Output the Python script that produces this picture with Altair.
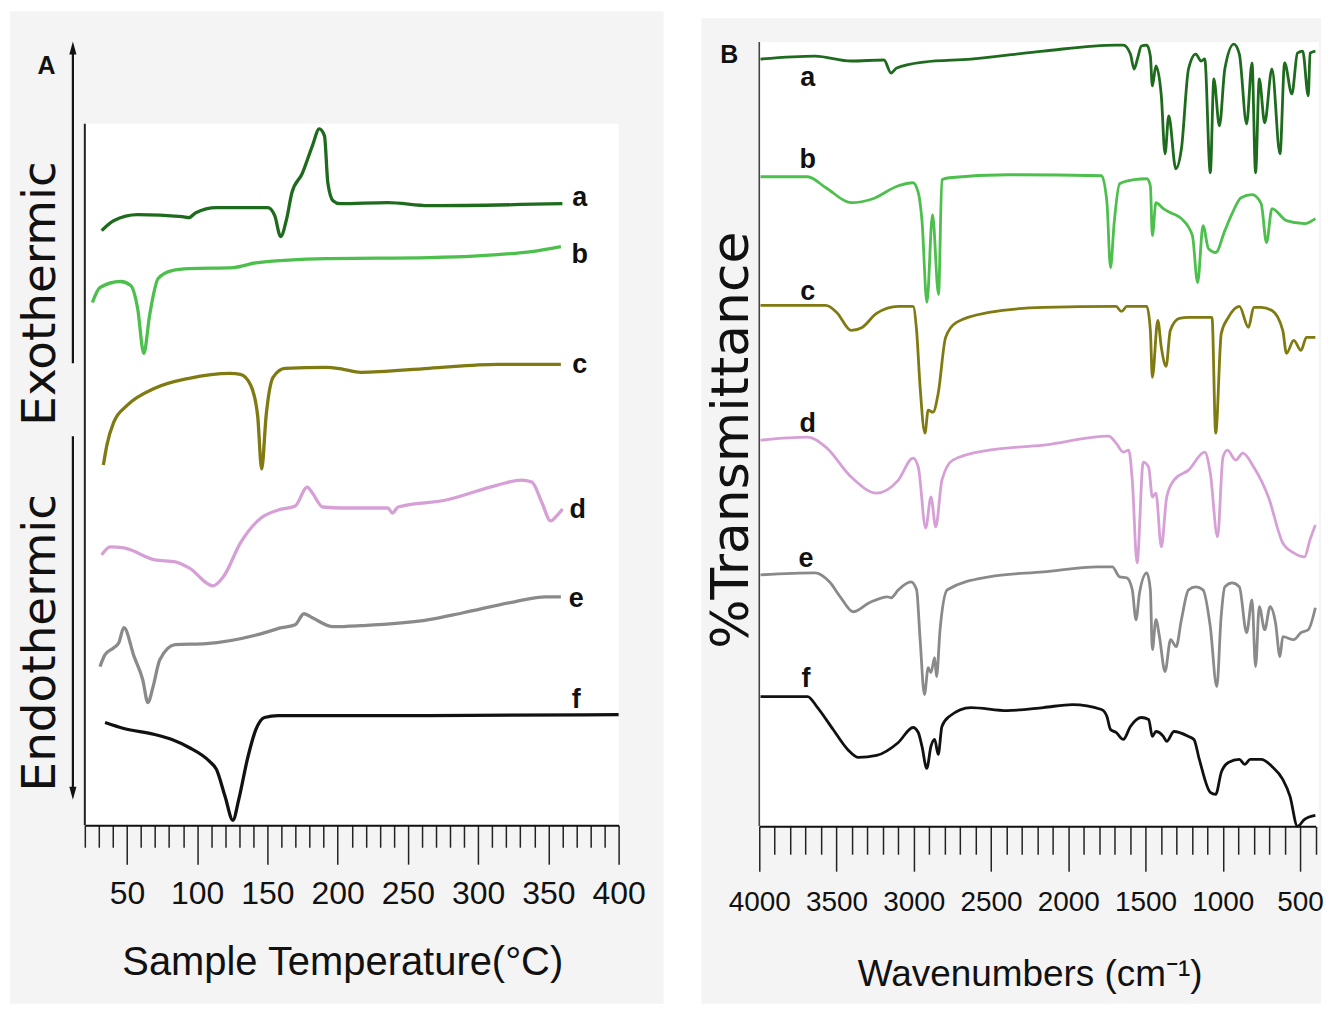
import altair as alt
import pandas as pd

# ---------------- shared ----------------
LABELS = ["a", "b", "c", "d", "e", "f"]
COLORS = ["#1e6b1e", "#4cbf4c", "#7f7a12", "#d6a0d6", "#8a8a8a", "#111111"]
FONT_AX = "Liberation Sans, Arial, sans-serif"
FONT_SANS = "DejaVu Sans, Liberation Sans, sans-serif"

# ---------------- Panel A : DSC (temperature in degC, heat flow a.u.) ----------------
dsc_T = [
    [32, 40.5, 57.6, 89.3, 94.2, 99, 113.7, 150.3, 155.2, 159.4, 163.7, 167.4, 174.7, 182, 186.9, 190.6, 193, 196.7, 201.6, 235.6, 265, 360],
    [25.4, 30.8, 45.4, 52.7, 57.6, 62, 66.1, 72.2, 82, 94.2, 125.9, 143, 191.8, 265, 313.8, 338.2, 358.9],
    [33.2, 35.7, 40.6, 50.3, 69.8, 94.2, 123.5, 130.8, 138.1, 143, 145.9, 149.1, 154, 162.5, 191.8, 204, 216.2, 265, 313.8, 358.9],
    [32, 38.1, 47.8, 69.8, 84.4, 94.2, 111.3, 118.6, 130.8, 145.4, 157.7, 169.8, 178.3, 182, 189.3, 204, 235.6, 238.9, 243, 277.2, 313.8, 330.9, 338.2, 345.5, 351.6, 355.2, 360.1],
    [30.8, 34.4, 40.6, 44.2, 47.8, 55.1, 61.2, 64.9, 68.6, 73.4, 84.4, 106.4, 143, 160.1, 169.8, 176, 182, 196.7, 216.2, 265, 289.4, 326, 348, 358.9],
    [34.4, 47.8, 69.8, 82, 94.2, 108.8, 113.7, 119.8, 125.4, 129.6, 135.7, 141.8, 147.9, 157.7, 265, 400],
]
dsc_y = [
    [59.6, 60.6, 61.2, 61.0, 60.9, 61.4, 61.9, 61.9, 61.1, 59.0, 60.8, 63.4, 65.3, 68.1, 69.8, 69.1, 64.4, 62.6, 62.3, 62.4, 62.1, 62.3],
    [52.4, 53.9, 54.5, 54.1, 51.8, 47.3, 51.1, 54.8, 55.6, 55.8, 55.9, 56.4, 56.8, 56.9, 57.2, 57.5, 58.0],
    [36.1, 38.1, 40.4, 42.1, 43.8, 44.8, 45.3, 45.2, 44.1, 41.1, 35.7, 41.1, 44.9, 45.8, 45.9, 45.7, 45.4, 45.8, 46.2, 46.2],
    [27.1, 27.9, 27.8, 26.6, 26.4, 25.8, 24.0, 24.9, 28.3, 30.8, 31.6, 32.0, 33.9, 33.3, 31.9, 31.8, 31.8, 31.3, 31.9, 32.6, 34.1, 34.6, 34.4, 32.3, 30.5, 30.9, 31.7],
    [15.9, 17.1, 17.8, 18.3, 19.8, 16.9, 14.6, 12.3, 13.9, 16.6, 18.1, 18.2, 19.1, 19.8, 20.1, 21.2, 20.8, 19.9, 20.0, 20.6, 21.3, 22.4, 22.9, 22.9],
    [10.3, 9.7, 9.1, 8.6, 7.8, 6.4, 5.6, 2.9, 0.5, 2.6, 6.6, 9.6, 10.8, 11.0, 11.0, 11.1],
]
dsc_label_T = [372.3, 372.3, 372.3, 370.9, 369.8, 369.8]
dsc_label_y = [62.1, 56.4, 45.3, 30.8, 21.9, 11.8]

# ---------------- Panel B : FTIR (wavenumber cm-1, %T a.u.) ----------------
ftir_W = [
    [3992, 3640, 3405, 3193, 3147, 3111, 2936, 2630, 2161, 1691, 1644, 1598, 1574, 1551, 1527, 1492, 1469, 1456, 1433, 1398,
     1374, 1350, 1304, 1268, 1222, 1175, 1140, 1117, 1081, 1058, 1022, 987, 929, 893, 846, 811, 788, 764, 729, 682,
     630, 600, 553, 517, 483, 447, 435, 401],
    [3992, 3687, 3569, 3405, 3264, 3100, 3005, 2971, 2947, 2915, 2879, 2840, 2818, 2771, 2395, 1785, 1750, 1727, 1703, 1668,
     1574, 1492, 1469, 1456, 1433, 1385, 1338, 1268, 1197, 1163, 1128, 1093, 1046, 987, 940, 882, 811, 752, 717, 682,
     588, 471, 401],
    [3992, 3569, 3499, 3405, 3335, 3241, 3100, 3005, 2982, 2959, 2928, 2907, 2876, 2842, 2794, 2724, 2513, 2161, 1691, 1656,
     1621, 1492, 1469, 1456, 1421, 1398, 1367, 1340, 1281, 1222, 1070, 1046, 1010, 964, 893, 834, 800, 752, 682, 612,
     588, 541, 494, 459, 401],
    [3992, 3687, 3569, 3405, 3241, 3100, 3005, 2971, 2923, 2889, 2858, 2818, 2747, 2513, 2161, 1739, 1691, 1644, 1609, 1586,
     1555, 1515, 1480, 1456, 1433, 1398, 1363, 1316, 1222, 1117, 1081, 1034, 999, 970, 917, 870, 800, 705, 612, 541,
     471, 436, 401],
    [3992, 3640, 3546, 3476, 3393, 3288, 3170, 3147, 3100, 3018, 2982, 2959, 2931, 2907, 2889, 2865, 2853, 2830, 2783, 2513,
     2161, 1809, 1715, 1668, 1621, 1586, 1562, 1539, 1492, 1469, 1456, 1433, 1410, 1374, 1338, 1302, 1268, 1222, 1175, 1128,
     1081, 1039, 1011, 987, 940, 893, 846, 811, 788, 764, 729, 694, 659, 630, 612, 541, 494, 447, 401],
    [3992, 3687, 3628, 3522, 3428, 3358, 3241, 3100, 3005, 2971, 2947, 2916, 2889, 2865, 2842, 2818, 2771, 2630, 2395, 2161,
     1973, 1785, 1750, 1727, 1691, 1644, 1598, 1527, 1480, 1456, 1433, 1385, 1363, 1316, 1222, 1187, 1152, 1081, 1046, 1010,
     964, 893, 858, 823, 752, 682, 612, 565, 517, 471, 401],
]
ftir_y = [
    [76.9, 77.2, 76.7, 76.8, 75.5, 76.0, 76.6, 76.9, 77.7, 78.3, 78.3, 77.4, 75.9, 77.0, 78.2, 78.3, 77.2, 74.2, 76.2, 73.2,
     67.4, 71.2, 65.9, 67.9, 75.9, 77.4, 76.7, 76.9, 65.5, 74.9, 70.2, 75.9, 78.4, 77.4, 70.4, 76.5, 65.5, 74.9, 70.5, 75.9,
     67.4, 76.5, 73.4, 77.5, 77.7, 73.2, 77.5, 77.7],
    [65.1, 65.1, 64.0, 62.5, 62.9, 64.2, 64.5, 63.5, 60.7, 52.5, 61.3, 53.3, 64.8, 65.0, 65.3, 65.2, 62.5, 56.0, 60.5, 64.4,
     64.8, 64.9, 64.2, 59.2, 62.5, 61.9, 61.5, 60.9, 59.2, 54.5, 60.2, 57.9, 57.5, 59.7, 61.4, 63.0, 63.3, 62.4, 58.5, 61.9,
     60.7, 60.4, 60.9],
    [52.2, 52.2, 51.5, 49.7, 50.0, 51.4, 52.1, 52.1, 49.7, 44.0, 39.4, 41.7, 41.5, 43.4, 49.0, 50.5, 51.5, 52.0, 52.1, 51.6,
     52.1, 52.1, 49.7, 45.0, 50.7, 48.0, 46.1, 49.7, 50.9, 51.0, 51.0, 39.4, 49.4, 51.0, 52.1, 50.0, 52.0, 52.0, 51.7, 49.7,
     47.4, 48.7, 47.7, 49.0, 49.0],
    [38.7, 39.0, 38.0, 35.0, 33.4, 34.7, 36.9, 36.0, 29.9, 33.0, 30.0, 34.7, 36.7, 37.7, 38.2, 39.1, 38.4, 37.5, 37.7, 34.7,
     26.4, 36.5, 36.0, 33.0, 33.4, 28.0, 33.0, 34.7, 35.7, 37.5, 35.4, 29.0, 37.0, 37.7, 36.7, 37.4, 36.0, 33.0, 28.4, 27.4,
     27.0, 28.7, 30.2],
    [25.2, 25.4, 24.5, 23.0, 21.5, 22.4, 23.0, 22.9, 23.7, 24.5, 23.7, 18.7, 13.2, 15.9, 15.4, 16.9, 15.0, 19.7, 23.7, 25.0,
     25.5, 26.0, 26.0, 25.0, 24.9, 23.7, 20.7, 23.4, 25.4, 23.7, 17.7, 20.7, 19.0, 15.5, 18.7, 18.0, 20.7, 23.7, 24.0, 23.7,
     20.0, 14.0, 21.0, 24.0, 24.4, 24.0, 19.4, 22.7, 16.0, 22.0, 19.7, 22.0, 20.4, 17.0, 19.0, 18.7, 19.4, 19.7, 21.9],
    [13.0, 13.0, 12.0, 9.7, 7.7, 6.9, 7.1, 8.4, 9.9, 9.4, 8.0, 5.8, 8.0, 8.7, 7.2, 10.0, 11.0, 11.9, 11.6, 11.9,
     12.2, 11.7, 11.0, 9.7, 9.4, 8.7, 10.0, 10.9, 10.7, 9.0, 9.5, 9.0, 8.5, 9.5, 9.0, 8.7, 6.7, 3.4, 3.2, 5.4,
     6.4, 6.7, 6.2, 6.7, 6.7, 6.0, 4.7, 3.0, 0.0, 0.7, 1.1],
]
ftir_label_W = [3687, 3687, 3687, 3687, 3698, 3698]
ftir_label_y = [74.2, 66.0, 52.7, 39.5, 26.0, 14.0]

# ---------------- helpers ----------------
def series_frame(xname, xs_list, ys_list):
    rows = []
    for lab, xs, ys in zip(LABELS, xs_list, ys_list):
        for i, (x, y) in enumerate(zip(xs, ys)):
            rows.append({xname: x, "v": y, "curve": lab, "i": i})
    return pd.DataFrame(rows)

color_enc = alt.Color("curve:N", scale=alt.Scale(domain=LABELS, range=COLORS), legend=None)

def XA(f, axis=None):
    return alt.X(f, scale=alt.Scale(domain=[20, 400], range=[77, 612], nice=False, zero=False), axis=axis)
def YA(f):
    return alt.Y(f, scale=alt.Scale(domain=[0, 70.3], range=[818, 115], nice=False, zero=False), axis=None)
def XB(f, axis=None):
    return alt.X(f, scale=alt.Scale(domain=[4000, 400], range=[753, 1310.5], nice=False, zero=False), axis=axis)
def YB(f):
    return alt.Y(f, scale=alt.Scale(domain=[0, 78.6], range=[819, 33], nice=False, zero=False), axis=None)

axA = alt.Axis(
    orient="bottom", offset=0, zindex=2, grid=False,
    values=list(range(20, 401, 10)), format="d",
    labelExpr="datum.value % 50 === 0 ? datum.label : ''",
    tickSize={"condition": {"test": "datum.value % 50 === 0", "value": 39}, "value": 22},
    tickColor="#222222", tickWidth=1.5, domainColor="#111111", domainWidth=2,
    labelFont=FONT_AX, labelFontSize=32, labelColor="#111111", labelPadding=14,
    labelOverlap=False, labelFlush=False,
    title="Sample Temperature(°C)", titleFont=FONT_AX, titleFontSize=40,
    titleFontWeight="normal", titleColor="#111111", titlePadding=34, titleX=335,
)
axB = alt.Axis(
    orient="bottom", offset=1, zindex=2, grid=False,
    values=list(range(400, 4001, 100)), format="d",
    labelExpr="datum.value % 500 === 0 ? datum.label : ''",
    tickSize={"condition": {"test": "datum.value % 500 === 0", "value": 45}, "value": 28},
    tickColor="#222222", tickWidth=1.5, domainColor="#111111", domainWidth=2,
    labelFont=FONT_AX, labelFontSize=28, labelColor="#111111", labelPadding=17,
    labelOverlap=False, labelFlush=False,
    title="Wavenumbers (cm⁻¹)", titleFont=FONT_AX, titleFontSize=37,
    titleFontWeight="normal", titleColor="#111111", titlePadding=41, titleX=1024,
)

# ---------------- Panel A layers ----------------
bgA = pd.DataFrame({"x0": [-33.3, 20], "x1": [432, 400], "y0": [-17.9, 0], "y1": [81.6, 70.3],
                    "fill": ["#f4f4f4", "#ffffff"]})
bgA_layer = alt.Chart(bgA).mark_rect().encode(
    x=XA("x0:Q"), x2="x1:Q", y=YA("y0:Q"), y2="y1:Q", fill=alt.Fill("fill:N", scale=None))
yaxA_layer = alt.Chart(pd.DataFrame({"T": [20], "y0": [0], "y1": [70.3]})).mark_rule(
    color="#222222", strokeWidth=2).encode(x=XA("T:Q"), y=YA("y0:Q"), y2="y1:Q")
arrA_layer = alt.Chart(pd.DataFrame({"T": [11.5, 11.5], "y0": [46.3, 3.2], "y1": [77.9, 39.0]})).mark_rule(
    color="#111111", strokeWidth=2.2).encode(x=XA("T:Q"), y=YA("y0:Q"), y2="y1:Q")
headUp = alt.Chart(pd.DataFrame({"T": [11.5], "y": [77.9]})).mark_point(
    shape="M0,-1L0.55,1L-0.55,1Z", filled=True, color="#111111", size=170, opacity=1
).encode(x=XA("T:Q"), y=YA("y:Q"))
headDn = alt.Chart(pd.DataFrame({"T": [11.5], "y": [3.2]})).mark_point(
    shape="M0,1L0.55,-1L-0.55,-1Z", filled=True, color="#111111", size=170, opacity=1
).encode(x=XA("T:Q"), y=YA("y:Q"))
curvesA = alt.Chart(series_frame("T", dsc_T, dsc_y)).mark_line(strokeWidth=3.3, interpolate="monotone").encode(
    x=XA("T:Q", axA), y=YA("v:Q"), color=color_enc, order="i:Q")
labA_layer = alt.Chart(pd.DataFrame({"T": dsc_label_T, "y": dsc_label_y, "t": LABELS})).mark_text(
    font=FONT_AX, fontSize=27, fontWeight="bold", color="#111111", align="center", baseline="alphabetic"
).encode(x=XA("T:Q"), y=YA("y:Q"), text="t:N")
rotA_layer = alt.Chart(pd.DataFrame({"T": [-11.25, -11.25], "y": [53.3, 18.3], "t": ["Exothermic", "Endothermic"]})).mark_text(
    font=FONT_SANS, fontSize=47, color="#111111", angle=270, align="center", baseline="middle"
).encode(x=XA("T:Q"), y=YA("y:Q"), text="t:N")
letA = alt.Chart(pd.DataFrame({"T": [-7.2], "y": [75.3], "t": ["A"]})).mark_text(
    font=FONT_AX, fontSize=25, fontWeight="bold", color="#111111", align="center", baseline="alphabetic"
).encode(x=XA("T:Q"), y=YA("y:Q"), text="t:N")

# ---------------- Panel B layers ----------------
bgB = pd.DataFrame({"x0": [4374.5, 4000], "x1": [364, 377], "y0": [-17.8, 0], "y1": [81.0, 78.6],
                    "fill": ["#f4f4f4", "#ffffff"]})
bgB_layer = alt.Chart(bgB).mark_rect().encode(
    x=XB("x0:Q"), x2="x1:Q", y=YB("y0:Q"), y2="y1:Q", fill=alt.Fill("fill:N", scale=None))
yaxB_layer = alt.Chart(pd.DataFrame({"W": [4000], "y0": [0], "y1": [78.6]})).mark_rule(
    color="#444444", strokeWidth=1.6).encode(x=XB("W:Q"), y=YB("y0:Q"), y2="y1:Q")
curvesB = alt.Chart(series_frame("W", ftir_W, ftir_y)).mark_line(strokeWidth=2.8, interpolate="monotone").encode(
    x=XB("W:Q", axB), y=YB("v:Q"), color=color_enc, order="i:Q")
labB_layer = alt.Chart(pd.DataFrame({"W": ftir_label_W, "y": ftir_label_y, "t": LABELS})).mark_text(
    font=FONT_AX, fontSize=27, fontWeight="bold", color="#111111", align="center", baseline="alphabetic"
).encode(x=XB("W:Q"), y=YB("y:Q"), text="t:N")
rotB = alt.Chart(pd.DataFrame({"W": [4174], "y": [38.7], "t": ["%Transmittance"]})).mark_text(
    font=FONT_SANS, fontSize=52, color="#111111", angle=270, align="center", baseline="middle"
).encode(x=XB("W:Q"), y=YB("y:Q"), text="t:N")
letB = alt.Chart(pd.DataFrame({"W": [4194], "y": [76.5], "t": ["B"]})).mark_text(
    font=FONT_AX, fontSize=25, fontWeight="bold", color="#111111", align="center", baseline="alphabetic"
).encode(x=XB("W:Q"), y=YB("y:Q"), text="t:N")

chart = (
    alt.layer(bgA_layer, bgB_layer, yaxA_layer, arrA_layer, headUp, headDn, curvesA, labA_layer, rotA_layer, letA,
              yaxB_layer, curvesB, labB_layer, rotB, letB)
    .resolve_scale(x="independent", y="independent", color="shared")
    .properties(width=1316, height=818, padding=0, background="white")
    .configure_view(stroke=None)
)

chart.save("out.html", embed_options={"renderer": "svg", "actions": False})
